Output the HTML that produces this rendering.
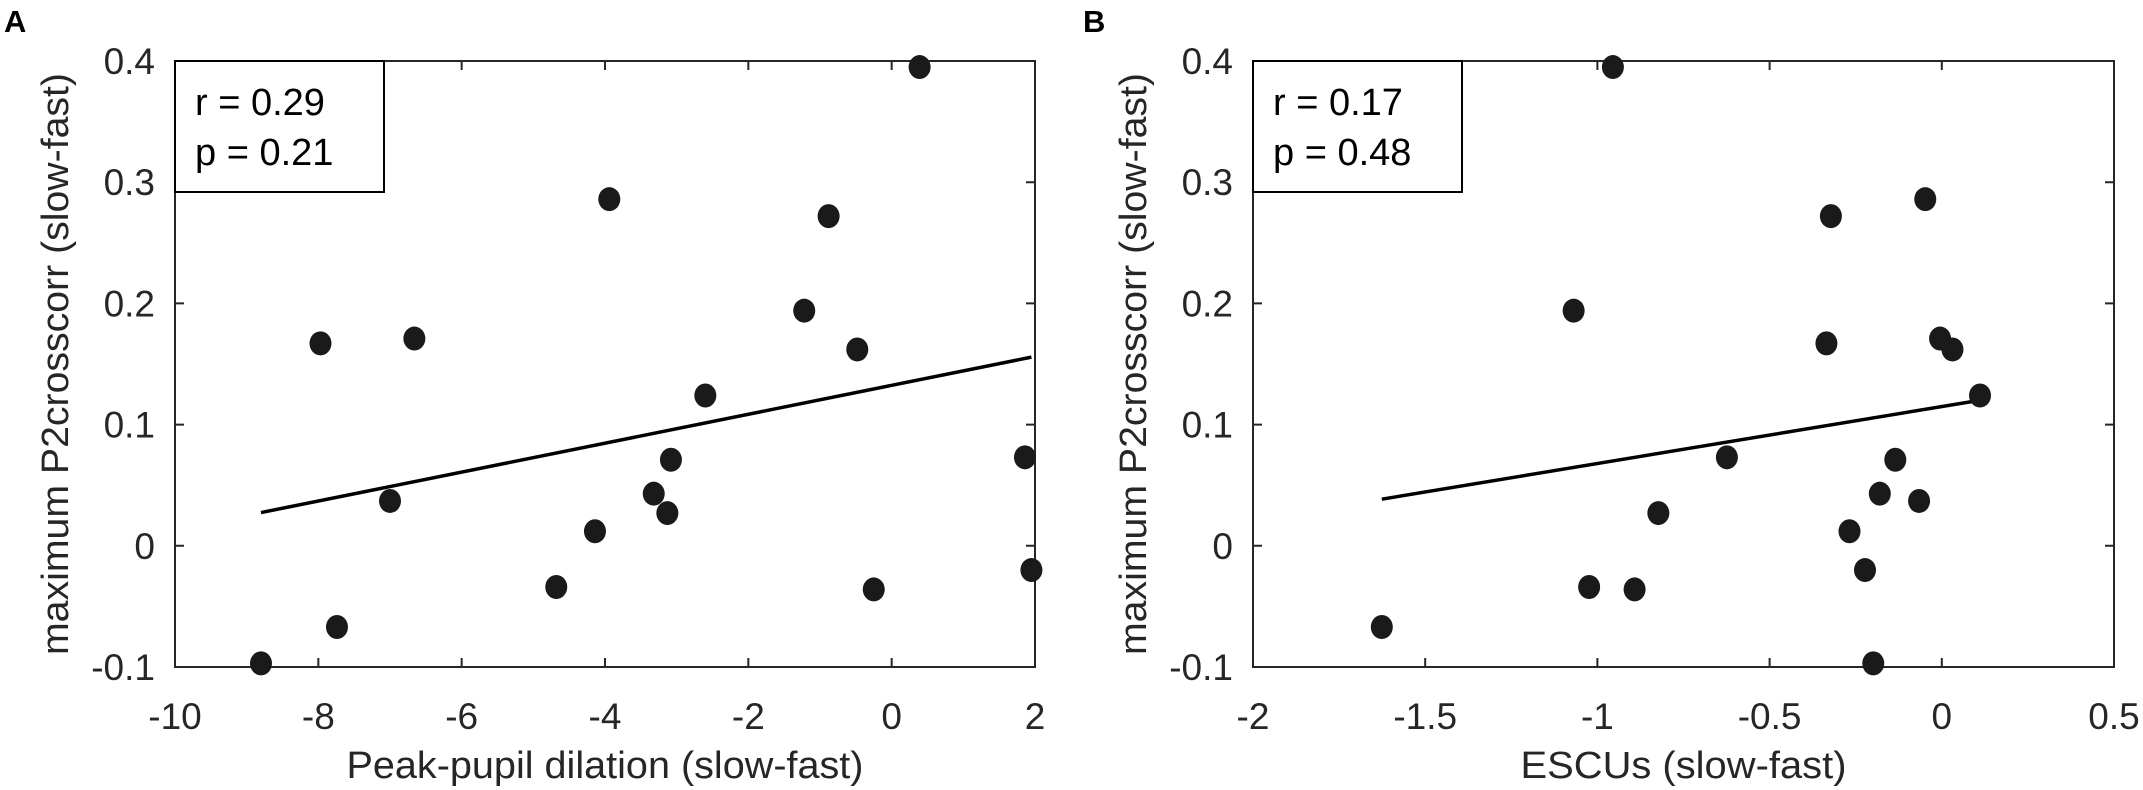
<!DOCTYPE html>
<html><head><meta charset="utf-8"><style>
html,body{margin:0;padding:0;background:#fff;}
svg{display:block;font-family:"Liberation Sans",Arial,sans-serif;}
</style></head><body>
<svg id="chart" width="2143" height="790" viewBox="0 0 2143 790" xmlns="http://www.w3.org/2000/svg"></svg>
<script>
// Panel A data
const aX = [0.39,-3.94,-0.88,-1.22,-7.97,-6.66,-0.48,-2.60,-3.08,1.86,-7.00,-3.32,-3.13,-4.14,-4.68,-0.25,1.95,-7.74,-8.80];
const aY = [0.395,0.286,0.272,0.194,0.167,0.171,0.162,0.124,0.071,0.073,0.037,0.043,0.027,0.012,-0.034,-0.036,-0.020,-0.067,-0.097];
const aFit = [0.01193,0.1324]; // slope, intercept
const aXTicks = [-10,-8,-6,-4,-2,0,2];
const aXTickLabels = ["-10","-8","-6","-4","-2","0","2"];
// Panel B data
const bX = [-0.955,-0.048,-0.322,-1.069,-0.335,-0.005,0.031,0.111,-0.624,-0.135,-0.18,-0.066,-0.823,-0.268,-0.223,-1.024,-0.892,-1.626,-0.199];
const bY = [0.395,0.286,0.272,0.194,0.167,0.171,0.162,0.124,0.073,0.071,0.043,0.037,0.027,0.012,-0.020,-0.034,-0.036,-0.067,-0.097];
const bFit = [0.0470,0.1149];
const bXTicks = [-2,-1.5,-1,-0.5,0,0.5];
const bXTickLabels = ["-2","-1.5","-1","-0.5","0","0.5"];
// shared y axis
const yTicks = [-0.1,0,0.1,0.2,0.3,0.4];
const yTickLabels = ["-0.1","0","0.1","0.2","0.3","0.4"];

const NS="http://www.w3.org/2000/svg";
const svg=document.getElementById('chart');
function mk(tag,attrs,parent){const e=document.createElementNS(NS,tag);for(const k in attrs)e.setAttribute(k,attrs[k]);(parent||svg).appendChild(e);return e;}

function panel(cfg){
  const L=cfg.left,R=cfg.right,T=61,B=667;
  const xs=v=>L+(v-cfg.xmin)/(cfg.xmax-cfg.xmin)*(R-L);
  const ys=v=>B-(v-(-0.1))/(0.5)*(B-T);
  const g=mk('g',{});
  
  
  const lab=mk('text',{x:cfg.letterX,y:32,'font-size':31,'font-weight':'bold',fill:'#000'},g);
  lab.textContent=cfg.letter;
  
  
  const box=mk('rect',{x:L,y:T,width:R-L,height:B-T,fill:'none',stroke:'#262626','stroke-width':2},g);
  
  
  cfg.xticks.forEach((t,i)=>{
    const x=xs(t);
    const tk=mk('path',{d:`M${x},${B}v-9M${x},${T}v9`,stroke:'#262626','stroke-width':2},g);
    
    
    const tx=mk('text',{x:x,y:729,'font-size':37,'text-anchor':'middle',fill:'#262626'},g);
    tx.textContent=cfg.xlabels[i];
    
    
  });
  yTicks.forEach((t,i)=>{
    const y=ys(t);
    const tk=mk('path',{d:`M${L},${y}h9M${R},${y}h-9`,stroke:'#262626','stroke-width':2},g);
    
    
    const tx=mk('text',{x:L-20,y:y+13,'font-size':37,'text-anchor':'end',fill:'#262626'},g);
    tx.textContent=yTickLabels[i];
    
    
  });
  const xt=mk('text',{x:(L+R)/2,y:778,'font-size':38,'text-anchor':'middle',fill:'#262626',textLength:cfg.xTitleLen,lengthAdjust:'spacingAndGlyphs'},g);
  xt.textContent=cfg.xTitle;
  
  
  const yx=L-107, yc=(T+B)/2;
  const yt=mk('text',{x:yx,y:yc,'font-size':38,'text-anchor':'middle',fill:'#262626',transform:`rotate(-90 ${yx} ${yc})`,textLength:582,lengthAdjust:'spacingAndGlyphs'},g);
  yt.textContent='maximum P2crosscorr (slow-fast)';
  
  
  // fit line
  const x0=Math.min(...cfg.xs), x1=Math.max(...cfg.xs);
  const fl=mk('line',{x1:xs(x0),y1:ys(cfg.fit[0]*x0+cfg.fit[1]),x2:xs(x1),y2:ys(cfg.fit[0]*x1+cfg.fit[1]),stroke:'#000','stroke-width':3.5},g);
  
  
  cfg.xs.forEach((v,i)=>{
    const c=mk('ellipse',{cx:xs(v),cy:ys(cfg.ys[i]),rx:11,ry:12,fill:'#1a1a1a'},g);
    
    
  });
  // legend
  const lg=mk('g',{},g);
  
  
  mk('rect',{x:L,y:T,width:209,height:131,fill:'#fff',stroke:'#000','stroke-width':2},lg);
  const t1=mk('text',{x:L+20,y:115,'font-size':38,fill:'#000'},lg);
  t1.textContent=cfg.r;
  
  
  const t2=mk('text',{x:L+20,y:165,'font-size':38,fill:'#000'},lg);
  t2.textContent=cfg.p;
  
  
}
panel({name:'panel-a',letter:'A',letterX:4,left:175,right:1035,xmin:-10,xmax:2,xticks:aXTicks,xlabels:aXTickLabels,xs:aX,ys:aY,fit:aFit,xTitle:'Peak-pupil dilation (slow-fast)',xTitleLen:517,r:'r = 0.29',p:'p = 0.21'});
panel({name:'panel-b',letter:'B',letterX:1083,left:1253,right:2114,xmin:-2,xmax:0.5,xticks:bXTicks,xlabels:bXTickLabels,xs:bX,ys:bY,fit:bFit,xTitle:'ESCUs (slow-fast)',xTitleLen:326,r:'r = 0.17',p:'p = 0.48'});
</script>
</body></html>
